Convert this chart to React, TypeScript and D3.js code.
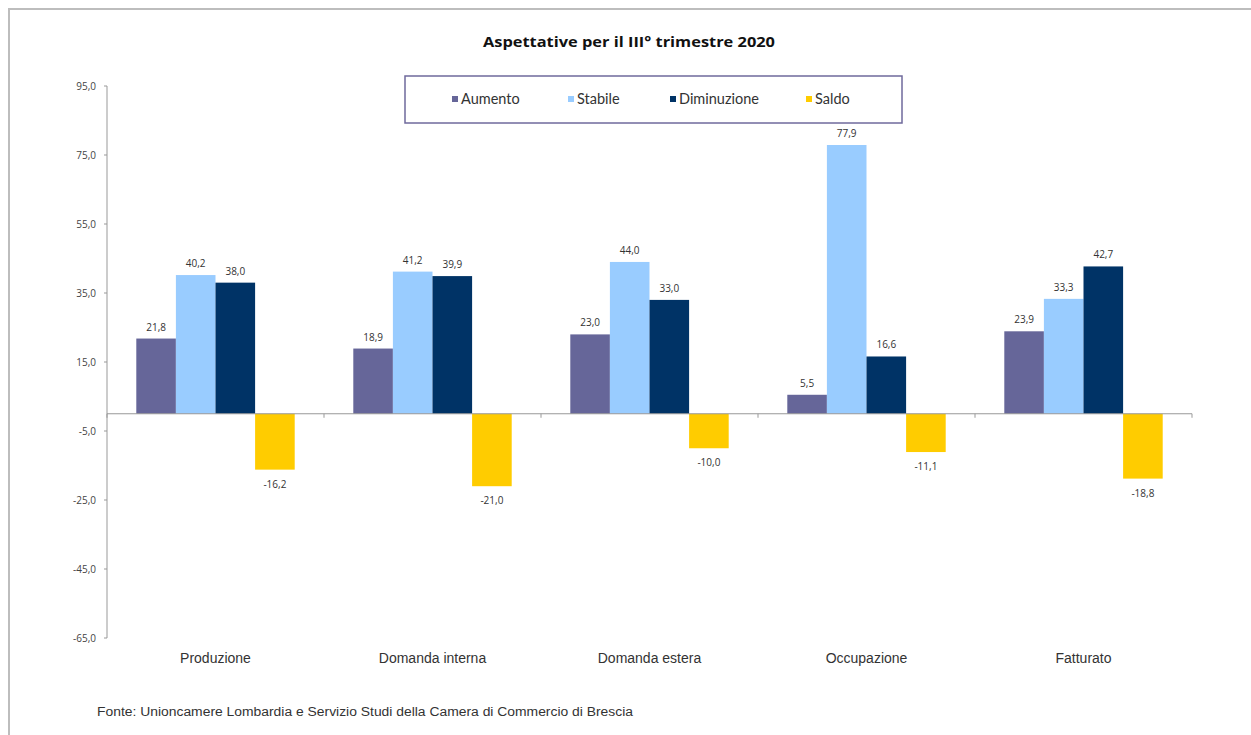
import React from "react";
import * as d3 from "d3";

const categories = ["Produzione", "Domanda interna", "Domanda estera", "Occupazione", "Fatturato"];
const seriesNames = ["Aumento", "Stabile", "Diminuzione", "Saldo"];
const aumento = [21.8, 18.9, 23.0, 5.5, 23.9];
const stabile = [40.2, 41.2, 44.0, 77.9, 33.3];
const diminuzione = [38.0, 39.9, 33.0, 16.6, 42.7];
const saldo = [-16.2, -21.0, -10.0, -11.1, -18.8];
const yTicks = [95, 75, 55, 35, 15, -5, -25, -45, -65];
const colors = ["#666699", "#99CCFF", "#003366", "#FFCC00"];

const W = 1251, H = 735;
const plotLeft = 107, plotRight = 1192, plotTop = 86, plotBottom = 638;

export default function App() {
  const series = [aumento, stabile, diminuzione, saldo];
  const y = d3.scaleLinear().domain([-65, 95]).range([plotBottom, plotTop]);
  const x0 = d3.scaleBand().domain(categories).range([plotLeft, plotRight]).paddingInner(0.27).paddingOuter(0.135);
  const x1 = d3.scaleBand().domain(seriesNames).range([0, x0.bandwidth()]);
  const fmt = (v: number) => v.toFixed(1).replace(".", ",");
  const y0 = y(0);
  const step = (plotRight - plotLeft) / categories.length;
  const legendX = [452, 568, 670, 806];
  const font = "Lato, 'Open Sans', sans-serif";
  const small = "'Open Sans', Lato, sans-serif";
  const arial = "'Liberation Sans', Arial, sans-serif";

  return (
    <svg width={W} height={H} style={{ position: "absolute", left: 0, top: 0, background: "#fff" }}>
      <rect x={9} y={9} width={W + 10} height={H + 10} fill="#fff" stroke="#bdbdbd" strokeWidth={2} />
      <text x={483} y={47} textLength={292} lengthAdjust="spacingAndGlyphs" fontFamily={small} fontWeight="bold" fontSize={14.5} fill="#111">
        Aspettative per il III° trimestre 2020
      </text>
      {/* legend */}
      <rect x={405} y={76} width={497} height={47} fill="#fff" stroke="#6f6a9c" strokeWidth={1.5} />
      {seriesNames.map((s, i) => (
        <g key={s}>
          <rect x={legendX[i]} y={96} width={6} height={6} fill={colors[i]} />
          <text x={legendX[i] + 9} y={104} fontFamily={font} fontSize={14.5} fill="#333">{s}</text>
        </g>
      ))}
      {/* y axis */}
      <line x1={plotLeft} x2={plotLeft} y1={plotTop} y2={plotBottom} stroke="#999" strokeWidth={1} />
      {yTicks.map((t) => (
        <g key={t}>
          <line x1={plotLeft - 3} x2={plotLeft} y1={y(t)} y2={y(t)} stroke="#999" />
          <text x={plotLeft - 11} y={y(t) + 3.5} textAnchor="end" fontFamily={small} fontSize={10} fill="#444">
            {fmt(t)}
          </text>
        </g>
      ))}
      {/* bars */}
      {categories.map((c, ci) => (
        <g key={c}>
          {series.map((arr, si) => {
            const v = arr[ci];
            const bx = (x0(c) as number) + (x1(seriesNames[si]) as number);
            const top = Math.min(y(v), y0);
            const h = Math.abs(y(v) - y0);
            return (
              <g key={si}>
                <rect x={bx} y={top} width={x1.bandwidth()} height={h} fill={colors[si]} />
                <text
                  x={bx + x1.bandwidth() / 2}
                  y={v >= 0 ? y(v) - 8 : y(v) + 18}
                  textAnchor="middle"
                  fontFamily={small}
                  fontSize={10}
                  fill="#333"
                >
                  {fmt(v)}
                </text>
              </g>
            );
          })}
          <text x={(x0(c) as number) + x0.bandwidth() / 2} y={663} textAnchor="middle" fontFamily={arial} fontSize={14} fill="#333">
            {c}
          </text>
        </g>
      ))}
      {/* x axis */}
      <line x1={plotLeft} x2={plotRight} y1={y0} y2={y0} stroke="#999" strokeWidth={1} />
      {d3.range(categories.length + 1).map((i) => (
        <line key={i} x1={plotLeft + i * step} x2={plotLeft + i * step} y1={y0} y2={y0 + 4} stroke="#999" />
      ))}
      <text x={97} y={716} textLength={536} lengthAdjust="spacingAndGlyphs" fontFamily={arial} fontSize={12.5} fill="#333">
        Fonte: Unioncamere Lombardia e Servizio Studi della Camera di Commercio di Brescia
      </text>
    </svg>
  );
}
